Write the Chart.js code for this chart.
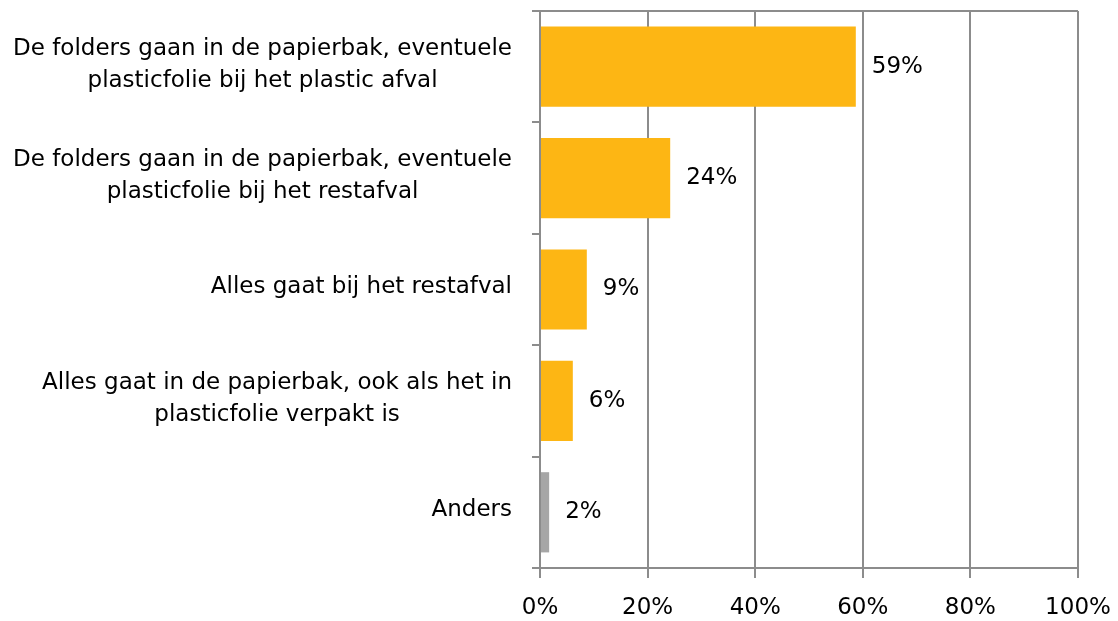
<!DOCTYPE html>
<html>
<head>
<meta charset="utf-8">
<script src="https://cdn.jsdelivr.net/npm/chart.js@4"></script>
<style>
  html, body { margin: 0; padding: 0; background: #fff; }
  #wrap { width: 1118px; height: 621px; }
</style>
</head>
<body>
<div id="wrap"><canvas id="chart1"></canvas></div>
<script>
// categories, top to bottom
const categories = [
    ['De folders gaan in de papierbak, eventuele', 'plasticfolie bij het plastic afval'],
    ['De folders gaan in de papierbak, eventuele', 'plasticfolie bij het restafval'],
    ['Alles gaat bij het restafval'],
    ['Alles gaat in de papierbak, ook als het in', 'plasticfolie verpakt is'],
    ['Anders']
];
const percentages = [58.7, 24.2, 8.7, 6.1, 1.7];
const valueLabels = ['59%', '24%', '9%', '6%', '2%'];
const barColors = ['#fdb614', '#fdb614', '#fdb614', '#fdb614', '#a6a6a6'];

const FONT = '"DejaVu Sans", sans-serif';
const FONT_SIZE = 23;
const GRID = '#8c8c8c';

// category labels: each block right aligned, lines centred to each other
const categoryLabels = {
    id: 'categoryLabels',
    afterDraw(chart) {
        const ctx = chart.ctx;
        const y = chart.scales.y;
        const rightEdge = y.right - 28;
        const lineH = 32;
        ctx.save();
        ctx.font = FONT_SIZE + 'px ' + FONT;
        ctx.fillStyle = '#000';
        ctx.textBaseline = 'middle';
        ctx.textAlign = 'center';
        categories.forEach((lines, i) => {
            const widest = Math.max(...lines.map(l => ctx.measureText(l).width));
            const cx = rightEdge - widest / 2;
            const cy = y.getPixelForValue(i) - 2;
            lines.forEach((l, j) => {
                ctx.fillText(l, cx, cy + (j - (lines.length - 1) / 2) * lineH);
            });
        });
        ctx.restore();
    }
};

// value labels to the right of the bars, plus the top frame line
const valueLabelPlugin = {
    id: 'valueLabels',
    afterDatasetsDraw(chart) {
        const ctx = chart.ctx;
        const area = chart.chartArea;
        ctx.save();
        ctx.strokeStyle = GRID;
        ctx.lineWidth = 2;
        ctx.beginPath();
        ctx.moveTo(area.left - 8, area.top);
        ctx.lineTo(area.right, area.top);
        ctx.stroke();

        ctx.font = FONT_SIZE + 'px ' + FONT;
        ctx.fillStyle = '#000';
        ctx.textBaseline = 'middle';
        ctx.textAlign = 'left';
        chart.getDatasetMeta(0).data.forEach((bar, i) => {
            ctx.fillText(valueLabels[i], bar.x + 16, bar.y);
        });
        ctx.restore();
    }
};

const ctx = document.getElementById('chart1');

const chart = new Chart(ctx, {
    type: 'bar',
    data: {
        labels: categories,
        datasets: [{
            data: percentages,
            backgroundColor: barColors,
            borderWidth: 0,
            categoryPercentage: 0.72,
            barPercentage: 1.0
        }]
    },
    options: {
        indexAxis: 'y',
        responsive: true,
        maintainAspectRatio: false,
        animation: false,
        layout: {
            padding: { top: 11, right: 40, left: 0, bottom: 0 }
        },
        scales: {
            x: {
                min: 0,
                max: 100,
                ticks: {
                    stepSize: 20,
                    callback: v => v + '%',
                    color: '#000',
                    font: { family: FONT, size: FONT_SIZE },
                    padding: 16
                },
                grid: {
                    color: GRID,
                    lineWidth: 2,
                    tickLength: 10,
                    drawTicks: true
                },
                border: { color: GRID, width: 2 },
                afterFit(scale) {
                    scale.height = 53;
                    scale.paddingLeft = 0;
                    scale.paddingRight = 0;
                }
            },
            y: {
                offset: true,
                ticks: { display: false },
                grid: {
                    offset: true,
                    drawOnChartArea: false,
                    color: GRID,
                    lineWidth: 2,
                    tickLength: 8
                },
                border: { color: GRID, width: 2 },
                afterFit(scale) { scale.width = 540; }
            }
        },
        plugins: {
            legend: { display: false },
            tooltip: { enabled: false }
        }
    },
    plugins: [categoryLabels, valueLabelPlugin]
});
</script>
</body>
</html>
